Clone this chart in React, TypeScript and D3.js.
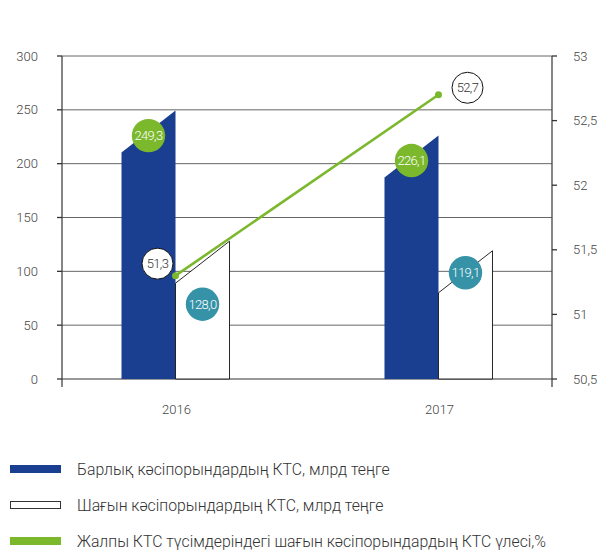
import React from "react";
import * as d3 from "d3";

const categories = ["2016", "2017"];
const totalValues = [249.3, 226.1];
const smallValues = [128.0, 119.1];
const shareValues = [51.3, 52.7];
const leftTicks = [0, 50, 100, 150, 200, 250, 300];
const rightTicks = [50.5, 51, 51.5, 52, 52.5, 53];
const legendLabels = [
  "Барлық кәсіпорындардың КТС, млрд теңге",
  "Шағын кәсіпорындардың КТС, млрд теңге",
  "Жалпы КТС түсімдеріндегі шағын кәсіпорындардың КТС үлесі,%",
];

const BLUE = "#1a3f90";
const GREEN = "#7bb82c";
const TEAL = "#3592a7";
const FONT = "Roboto, sans-serif";

const fmt = (v: number, dec: number) => v.toFixed(dec).replace(".", ",");
const fmtTick = (v: number) => String(v).replace(".", ",");

export default function App() {
  const W = 599, H = 550;
  const left = 62, right = 552, top = 56, bottom = 379;
  const x = d3.scalePoint<string>().domain(categories).range([left, right]).padding(0.4316);
  const yL = d3.scaleLinear().domain([0, 300]).range([bottom, top]);
  const yR = d3.scaleLinear().domain([50.5, 53]).range([bottom, top]);
  const barW = 54;
  const slant = 42;

  const barPath = (x0: number, x1: number, v: number) => {
    const yv = yL(v);
    return `M${x0},${bottom} L${x0},${yv + slant} L${x1},${yv} L${x1},${bottom} Z`;
  };

  const line = d3
    .line<number>()
    .x((_, i) => x(categories[i])!)
    .y((d) => yR(d));

  // label placement offsets (layout only)
  const smallLabelDy = [63, 22];
  const shareLabelOffsets = [
    [-18, -12],
    [29, -7],
  ];

  const bubbleText = { fontSize: 13, fontWeight: 300, letterSpacing: -0.7 };

  return (
    <svg width={W} height={H} style={{ position: "absolute", left: 0, top: 0, background: "#fff" }} fontFamily={FONT}>
      {/* gridlines */}
      {leftTicks.map((t) => (
        <line key={"g" + t} x1={left} x2={right} y1={yL(t)} y2={yL(t)} stroke={t === 0 ? "#333" : "#666"} strokeWidth={1} />
      ))}
      {/* left axis */}
      <line x1={left} x2={left} y1={top} y2={bottom + 8} stroke="#444" strokeWidth={1.3} />
      {leftTicks.map((t) => (
        <g key={"l" + t}>
          <line x1={left - 5} x2={left} y1={yL(t)} y2={yL(t)} stroke="#333" strokeWidth={1.3} />
          <text x={38} y={yL(t)} dy="0.35em" textAnchor="end" fontSize={13} fontWeight={300} fill="#444">
            {fmtTick(t)}
          </text>
        </g>
      ))}
      {/* right axis */}
      <line x1={right} x2={right} y1={top} y2={bottom + 8} stroke="#444" strokeWidth={1.3} />
      {rightTicks.map((t) => (
        <g key={"r" + t}>
          <line x1={right} x2={right + 5} y1={yR(t)} y2={yR(t)} stroke="#333" strokeWidth={1.3} />
          <text x={573} y={yR(t)} dy="0.35em" textAnchor="start" fontSize={13} fontWeight={300} fill="#444">
            {fmtTick(t)}
          </text>
        </g>
      ))}
      {/* bars */}
      {categories.map((c, i) => {
        const cx = x(c)!;
        return (
          <g key={"b" + c}>
            <path d={barPath(cx - barW, cx, totalValues[i])} fill={BLUE} />
            <path d={barPath(cx, cx + barW, smallValues[i])} fill="#fff" stroke="#111" strokeWidth={0.9} />
          </g>
        );
      })}
      {/* x labels */}
      {categories.map((c) => (
        <text key={"x" + c} x={x(c)! + 1} y={414} textAnchor="middle" fontSize={13} fontWeight={300} fill="#444">
          {c}
        </text>
      ))}
      {/* line */}
      <path d={line(shareValues)!} fill="none" stroke={GREEN} strokeWidth={2.6} />
      {shareValues.map((v, i) => (
        <circle key={"p" + i} cx={x(categories[i])!} cy={yR(v)} r={3.5} fill={GREEN} />
      ))}
      {/* bubbles: total */}
      {categories.map((c, i) => {
        const cx = x(c)! - barW / 2;
        const cy = yL(totalValues[i]) + slant / 2 + 4;
        return (
          <g key={"tb" + c}>
            <circle cx={cx} cy={cy} r={16.7} fill={GREEN} />
            <text x={cx} y={cy} dy="0.35em" textAnchor="middle" {...bubbleText} fill="#fff">
              {fmt(totalValues[i], 1)}
            </text>
          </g>
        );
      })}
      {/* bubbles: small */}
      {categories.map((c, i) => {
        const cx = x(c)! + barW / 2;
        const cy = yL(smallValues[i]) + smallLabelDy[i];
        return (
          <g key={"sb" + c}>
            <circle cx={cx} cy={cy} r={16.7} fill={TEAL} />
            <text x={cx} y={cy} dy="0.35em" textAnchor="middle" {...bubbleText} fill="#fff">
              {fmt(smallValues[i], 1)}
            </text>
          </g>
        );
      })}
      {/* bubbles: share */}
      {categories.map((c, i) => {
        const cx = x(c)! + shareLabelOffsets[i][0];
        const cy = yR(shareValues[i]) + shareLabelOffsets[i][1];
        return (
          <g key={"shb" + c}>
            <circle cx={cx} cy={cy} r={15.5} fill="#fff" stroke="#111" strokeWidth={1} />
            <text x={cx} y={cy} dy="0.35em" textAnchor="middle" {...bubbleText} fill="#333">
              {fmt(shareValues[i], 1)}
            </text>
          </g>
        );
      })}
      {/* legend */}
      {legendLabels.map((lab, i) => {
        const ly = 465 + i * 36;
        return (
          <g key={"lg" + i}>
            {i === 0 && <rect x={10} y={ly} width={51} height={8} fill={BLUE} />}
            {i === 1 && <rect x={10.5} y={ly + 0.5} width={50} height={7} fill="#fff" stroke="#333" strokeWidth={1} />}
            {i === 2 && <rect x={10} y={ly} width={51} height={8} fill={GREEN} />}
            <text x={77} y={ly + 4} dy="0.35em" fontSize={15.8} fontWeight={300} fill="#333">
              {lab}
            </text>
          </g>
        );
      })}
    </svg>
  );
}
